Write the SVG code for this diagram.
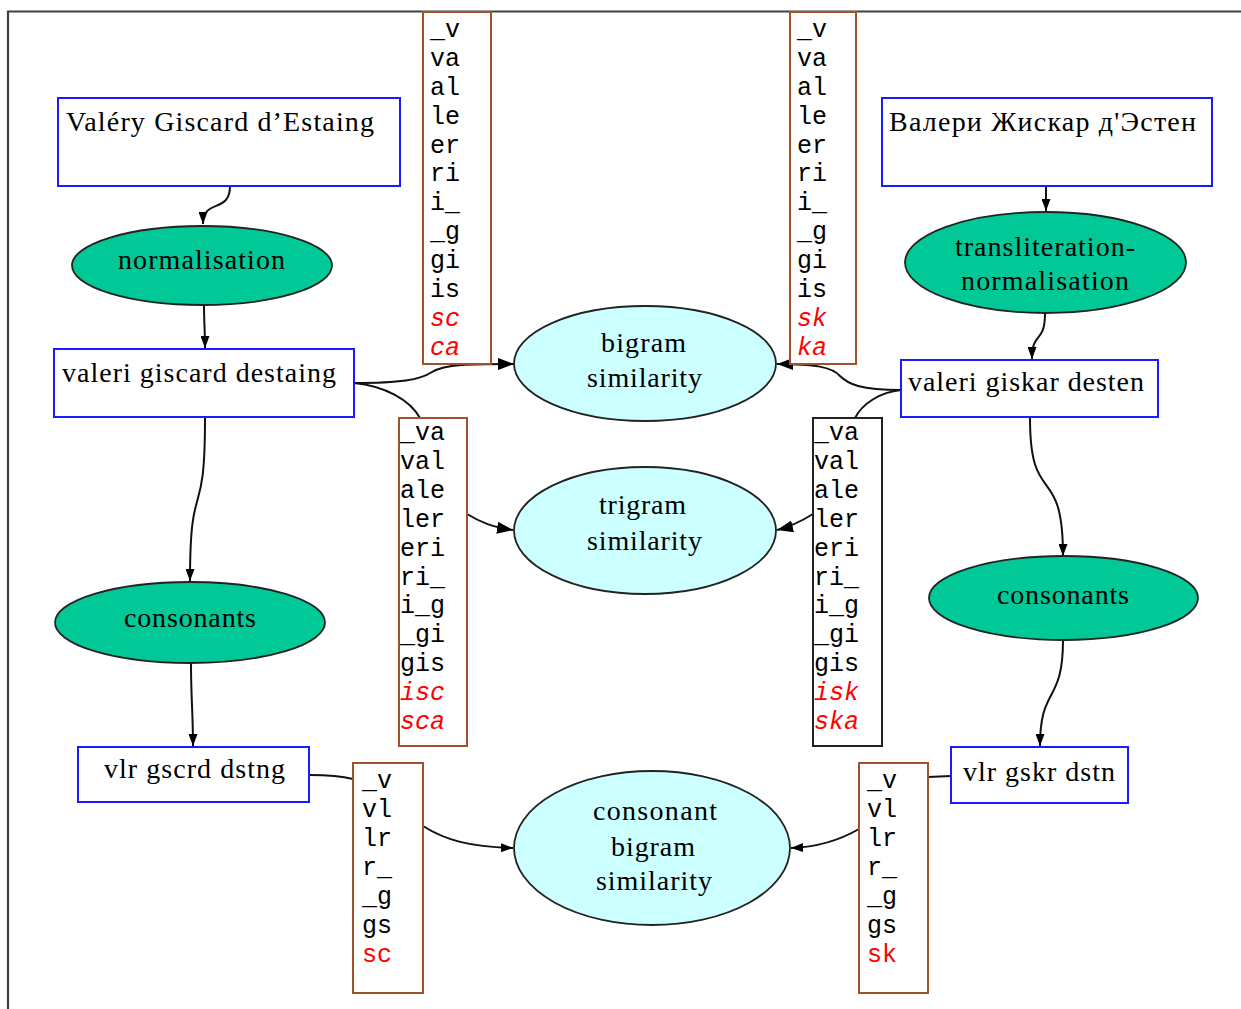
<svg xmlns="http://www.w3.org/2000/svg" width="1241" height="1009" viewBox="0 0 1241 1009">
<defs>
<style>
.box{fill:#fff;stroke:#1a1aff;stroke-width:2}
.lbl{fill:#fff;stroke:#a0522d;stroke-width:2}
.lblk{fill:#fff;stroke:#222;stroke-width:2}
.proc{fill:#00c896;stroke:#222;stroke-width:1.8}
.sim{fill:#ccffff;stroke:#222;stroke-width:1.8}
.t{font-family:"Liberation Serif","Times New Roman",serif;font-size:28px;fill:#000}
.m{font-family:"Liberation Mono","Courier New",monospace;font-size:25px;fill:#000}
.r{fill:#ff0000;font-style:italic}
.ru{fill:#ff0000}
.e{fill:none;stroke:#111;stroke-width:2}
</style>
<marker id="a" viewBox="0 0 12 9" refX="12" refY="4.5" markerWidth="12" markerHeight="9" markerUnits="userSpaceOnUse" orient="auto"><path d="M0,0 L12,4.5 L0,9 z" fill="#000"/></marker>
<marker id="b" viewBox="0 0 16 12" refX="16" refY="6" markerWidth="16" markerHeight="12" markerUnits="userSpaceOnUse" orient="auto"><path d="M0,0 L16,6 L0,12 z" fill="#000"/></marker>
</defs>
<rect width="1241" height="1009" fill="#fff"/>
<path d="M8,1009 V11.5 H1241" fill="none" stroke="#404040" stroke-width="2.2"/>

<g id="connectors">
<path class="e" d="M230,186 C230,214 203,198 203,224" marker-end="url(#a)"/>
<path class="e" d="M204,305 C204,322 205,330 205,348" marker-end="url(#a)"/>
<path class="e" d="M205,418 C205,530 190,470 190,581" marker-end="url(#a)"/>
<path class="e" d="M191,663 C191,700 193,712 193,746" marker-end="url(#a)"/>
<path class="e" d="M1046,186 L1046,211" marker-end="url(#a)"/>
<path class="e" d="M1045,313 C1045,345 1032,330 1032,359" marker-end="url(#a)"/>
<path class="e" d="M1030,418 C1030,510 1063,460 1063,556" marker-end="url(#a)"/>
<path class="e" d="M1063,640 C1063,705 1040,685 1040,746" marker-end="url(#a)"/>
<path class="e" d="M354,383 C400,383 420,380 432,372 C445,364 470,364 514,364" marker-end="url(#b)"/>
<path class="e" d="M354,383 C385,386 410,400 420,418"/>
<path class="e" d="M467,514 C480,522 492,527 513,530" marker-end="url(#b)"/>
<path class="e" d="M901,390 C860,390 848,384 840,376 C832,367 815,364 777,364" marker-end="url(#b)"/>
<path class="e" d="M901,390 C880,392 862,404 855,418"/>
<path class="e" d="M813,514 C800,522 790,527 777,530" marker-end="url(#b)"/>
<path class="e" d="M310,775 C330,775 345,777 353,779"/>
<path class="e" d="M423,826 C445,840 470,847 513,848" marker-end="url(#a)"/>
<path class="e" d="M951,776 L928,777"/>
<path class="e" d="M859,829 C840,840 820,847 791,848" marker-end="url(#a)"/>
</g>

<g id="n-valery"><rect class="box" x="58" y="98" width="342" height="88"/><text class="t" x="66" y="131" textLength="308">Valéry Giscard d’Estaing</text></g>
<g id="n-normalisation"><ellipse class="proc" cx="202" cy="265.5" rx="130" ry="39.5"/><text class="t" x="118" y="269" textLength="167">normalisation</text></g>
<g id="n-destaing"><rect class="box" x="54" y="349" width="300" height="68"/><text class="t" x="62" y="382" textLength="274">valeri giscard destaing</text></g>
<g id="n-consonants-l"><ellipse class="proc" cx="190" cy="622.5" rx="135" ry="40.5"/><text class="t" x="124" y="627" textLength="132">consonants</text></g>
<g id="n-vlr-l"><rect class="box" x="78" y="747" width="231" height="55"/><text class="t" x="104" y="778" textLength="181">vlr gscrd dstng</text></g>

<g id="n-estene"><rect class="box" x="882" y="98" width="330" height="88"/><text class="t" x="889" y="131" textLength="307">Валери Жискар д'Эстен</text></g>
<g id="n-translit"><ellipse class="proc" cx="1045.5" cy="262.5" rx="140.5" ry="50.5"/><text class="t" x="955" y="256" textLength="180">transliteration-</text><text class="t" x="961" y="290" textLength="168">normalisation</text></g>
<g id="n-desten"><rect class="box" x="901" y="360" width="257" height="57"/><text class="t" x="908" y="391" textLength="236">valeri giskar desten</text></g>
<g id="n-consonants-r"><ellipse class="proc" cx="1063.5" cy="598" rx="134.5" ry="42"/><text class="t" x="997" y="604" textLength="132">consonants</text></g>
<g id="n-vlr-r"><rect class="box" x="951" y="747" width="177" height="56"/><text class="t" x="963" y="781" textLength="152">vlr gskr dstn</text></g>

<g id="n-bigram"><ellipse class="sim" cx="645" cy="363.5" rx="131" ry="57.5"/><text class="t" x="601" y="352" textLength="85">bigram</text><text class="t" x="587" y="387" textLength="115">similarity</text></g>
<g id="n-trigram"><ellipse class="sim" cx="645" cy="530.5" rx="131" ry="63.5"/><text class="t" x="599" y="514" textLength="87">trigram</text><text class="t" x="587" y="550" textLength="115">similarity</text></g>
<g id="n-consbigram"><ellipse class="sim" cx="652" cy="848" rx="138" ry="77"/><text class="t" x="593" y="820" textLength="124">consonant</text><text class="t" x="611" y="856" textLength="84">bigram</text><text class="t" x="596" y="890" textLength="116">similarity</text></g>

<g id="l-bigram-l"><rect class="lbl" x="423" y="12" width="68" height="352"/>
<text class="m" x="430"><tspan x="430" y="37">_v</tspan><tspan x="430" y="66">va</tspan><tspan x="430" y="95">al</tspan><tspan x="430" y="124">le</tspan><tspan x="430" y="153">er</tspan><tspan x="430" y="181">ri</tspan><tspan x="430" y="210">i_</tspan><tspan x="430" y="239">_g</tspan><tspan x="430" y="268">gi</tspan><tspan x="430" y="297">is</tspan><tspan class="r" x="430" y="326">sc</tspan><tspan class="r" x="430" y="355">ca</tspan></text></g>
<g id="l-bigram-r"><rect class="lbl" x="790" y="12" width="66" height="352"/>
<text class="m" x="797"><tspan x="797" y="37">_v</tspan><tspan x="797" y="66">va</tspan><tspan x="797" y="95">al</tspan><tspan x="797" y="124">le</tspan><tspan x="797" y="153">er</tspan><tspan x="797" y="181">ri</tspan><tspan x="797" y="210">i_</tspan><tspan x="797" y="239">_g</tspan><tspan x="797" y="268">gi</tspan><tspan x="797" y="297">is</tspan><tspan class="r" x="797" y="326">sk</tspan><tspan class="r" x="797" y="355">ka</tspan></text></g>
<g id="l-trigram-l"><rect class="lbl" x="399" y="418" width="68" height="328"/>
<text class="m" x="400"><tspan x="400" y="440">_va</tspan><tspan x="400" y="469">val</tspan><tspan x="400" y="498">ale</tspan><tspan x="400" y="527">ler</tspan><tspan x="400" y="556">eri</tspan><tspan x="400" y="585">ri_</tspan><tspan x="400" y="613">i_g</tspan><tspan x="400" y="642">_gi</tspan><tspan x="400" y="671">gis</tspan><tspan class="r" x="400" y="700">isc</tspan><tspan class="r" x="400" y="729">sca</tspan></text></g>
<g id="l-trigram-r"><rect class="lblk" x="813" y="418" width="69" height="328"/>
<text class="m" x="814"><tspan x="814" y="440">_va</tspan><tspan x="814" y="469">val</tspan><tspan x="814" y="498">ale</tspan><tspan x="814" y="527">ler</tspan><tspan x="814" y="556">eri</tspan><tspan x="814" y="585">ri_</tspan><tspan x="814" y="613">i_g</tspan><tspan x="814" y="642">_gi</tspan><tspan x="814" y="671">gis</tspan><tspan class="r" x="814" y="700">isk</tspan><tspan class="r" x="814" y="729">ska</tspan></text></g>
<g id="l-cons-l"><rect class="lbl" x="353" y="763" width="70" height="230"/>
<text class="m" x="362"><tspan x="362" y="788">_v</tspan><tspan x="362" y="817">vl</tspan><tspan x="362" y="846">lr</tspan><tspan x="362" y="875">r_</tspan><tspan x="362" y="904">_g</tspan><tspan x="362" y="933">gs</tspan><tspan class="ru" x="362" y="962">sc</tspan></text></g>
<g id="l-cons-r"><rect class="lbl" x="859" y="763" width="69" height="230"/>
<text class="m" x="867"><tspan x="867" y="788">_v</tspan><tspan x="867" y="817">vl</tspan><tspan x="867" y="846">lr</tspan><tspan x="867" y="875">r_</tspan><tspan x="867" y="904">_g</tspan><tspan x="867" y="933">gs</tspan><tspan class="ru" x="867" y="962">sk</tspan></text></g>
</svg>
